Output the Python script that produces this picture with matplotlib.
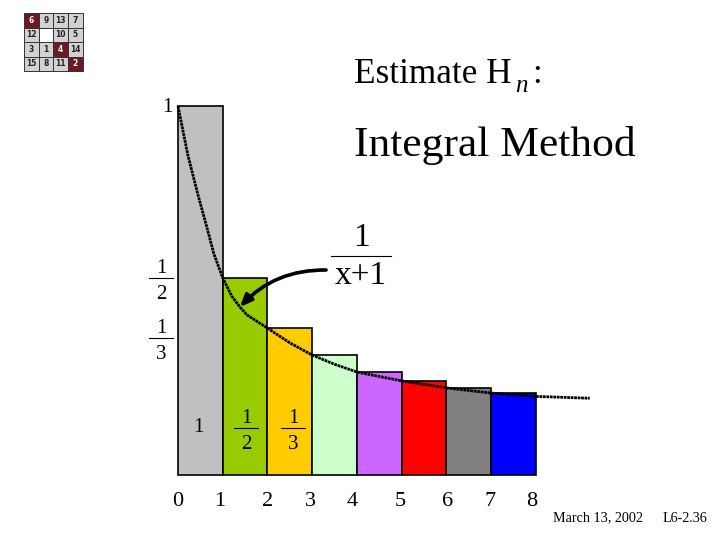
import matplotlib
matplotlib.use("Agg")
import matplotlib.pyplot as plt
from matplotlib.patches import Rectangle

plt.rcParams['font.family'] = ['Liberation Serif', 'DejaVu Serif']

# bars (height in units of the first bar)
bar_left = [0, 1, 2, 3, 4, 5, 6, 7]
bar_height = [1.0, 0.534, 0.398, 0.325, 0.279, 0.255, 0.236, 0.222]
bar_colors = ['#c0c0c0', '#99cc00', '#ffcc00', '#ccffcc', '#cc66ff', '#ff0000', '#808080', '#0000ff']

curve_x = [0, 0.22, 0.447, 0.648, 0.8, 1.0, 1.2, 1.385, 1.54, 2.0, 2.5, 3.0, 3.5, 4.0, 5.0, 6.0, 7.0, 8.0, 9.2]
curve_y = [1.0, 0.867, 0.759, 0.67, 0.6, 0.534, 0.485, 0.455, 0.434, 0.398, 0.358, 0.325, 0.30, 0.279, 0.255, 0.236, 0.222, 0.213, 0.208]

puzzle = [['6', '9', '13', '7'], ['12', '', '10', '5'], ['3', '1', '4', '14'], ['15', '8', '11', '2']]
puzzle_dark = ['6', '4', '2']

tick_labels = ['0', '1', '2', '3', '4', '5', '6', '7', '8']
tick_px = [178, 220, 268, 310, 352, 400, 448, 490, 532]

fig = plt.figure(figsize=(7.2, 5.4), dpi=100)

# pixel layer for the slide text
pix = fig.add_axes([0, 0, 1, 1])
pix.set_xlim(0, 720)
pix.set_ylim(540, 0)
pix.axis('off')

# chart layer: 1 unit = 44.75 px across, 369 px up
ax = fig.add_axes([0, 0, 1, 1])
ax.set_xlim(-178 / 44.75, (720 - 178) / 44.75)
ax.set_ylim(-(540 - 475) / 369, 475 / 369)
ax.axis('off')
ax.patch.set_alpha(0)

ax.bar(bar_left, bar_height, width=1, align='edge', color=bar_colors, edgecolor='black', linewidth=1.2)
ax.plot(curve_x, curve_y, color='black', linewidth=2.0, linestyle=(0, (1, 0.25)))

# fraction labels go on top of the bars
top = fig.add_axes([0, 0, 1, 1])
top.set_xlim(0, 720)
top.set_ylim(540, 0)
top.axis('off')
top.patch.set_alpha(0)


def frac(x, y, num, den, size, half, up, gap):
    top.text(x, y - up, num, fontsize=size, ha='center', va='bottom', color='black')
    top.text(x, y + gap, den, fontsize=size, ha='center', va='top', color='black')
    top.plot([x - half, x + half], [y, y], color='black', linewidth=0.8)


top.text(354, 83, 'Estimate H', fontsize=25.4, va='baseline', ha='left')
top.text(515, 92, 'n', fontsize=18, style='italic', va='baseline', ha='left')
top.text(532, 83, ':', fontsize=25.4, va='baseline', ha='left')
top.text(354, 156, 'Integral Method', fontsize=31.3, va='baseline', ha='left')
top.text(167, 108, '1', fontsize=15, ha='center', va='center')
frac(161, 278, '1', '2', 15, 12, 0, 7)
frac(161, 338, '1', '3', 15, 12, 0, 7)
frac(361, 256, '1', 'x+1', 24, 30, 3, 4)
top.text(198, 427, '1', fontsize=15, ha='center', va='center')
frac(246, 428, '1', '2', 15, 12, 0, 7)
frac(293, 428, '1', '3', 15, 12, 0, 7)

for lab, px in zip(tick_labels, tick_px):
    top.text(px, 502, lab, fontsize=16, ha='center', va='center')

top.text(597.5, 518, 'March 13, 2002', fontsize=10.2, ha='center', va='center')
top.text(684.5, 518, 'L6-2.36', fontsize=10.2, ha='center', va='center')

# arrow from the fraction back to the curve
ax.annotate('', xy=((240 - 178) / 44.75, (475 - 307) / 369), xytext=((326 - 178) / 44.75, (475 - 270) / 369),
            arrowprops=dict(arrowstyle='-|>,head_length=0.7,head_width=0.3', color='black', linewidth=2.6,
                            connectionstyle='arc3,rad=0.22', shrinkA=0, shrinkB=0))

# small puzzle thumbnail
for r, row in enumerate(puzzle):
    for c, val in enumerate(row):
        dark = val in puzzle_dark
        face = '#6b1a1f' if dark else ('white' if val == '' else '#d2d2d2')
        pix.add_patch(Rectangle((24 + c * 14.7, 13 + r * 14.5), 14.7, 14.5, facecolor=face,
                                edgecolor='#333333', linewidth=0.7))
        pix.text(24 + (c + 0.5) * 14.7, 13 + (r + 0.5) * 14.5, val, fontsize=5.5, fontweight='bold',
                 family='DejaVu Sans', ha='center', va='center', color='white' if dark else '#222222')

fig.savefig('out.png', dpi=100)
